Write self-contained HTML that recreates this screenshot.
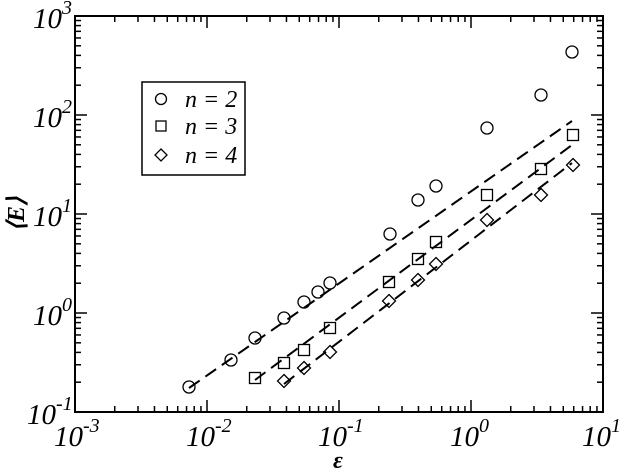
<!DOCTYPE html><html><head><style>body{margin:0;background:#fff}svg{display:block}text{font-family:"Liberation Serif",serif;font-style:italic}</style></head><body>
<svg width="623" height="472" xmlns="http://www.w3.org/2000/svg">
<g stroke="#000" stroke-width="2" fill="none">
<rect x="75" y="16" width="528" height="396"/>
</g>
<g stroke="#000" stroke-width="1.5" id="ticks"></g>
<g stroke="#000" stroke-width="2" fill="none" stroke-dasharray="13,7">
<line x1="189" y1="388" x2="572" y2="121"/>
<line x1="255" y1="380" x2="572" y2="145"/>
<line x1="284" y1="384" x2="572" y2="163"/>
</g>
<g stroke="#000" stroke-width="1.3" fill="none" id="pts"></g>
<rect x="142" y="82" width="103" height="93" fill="#fff" stroke="#000" stroke-width="1.5"/>
<circle cx="161" cy="99" r="5.5" fill="none" stroke="#000" stroke-width="1.3"/>
<rect x="156" y="121" width="10" height="10" fill="none" stroke="#000" stroke-width="1.3"/>
<path d="M161 149 l6 6 -6 6 -6 -6z" fill="none" stroke="#000" stroke-width="1.3"/>
<g font-size="24"><text x="185" y="107">n = 2</text><text x="185" y="134">n = 3</text><text x="185" y="163">n = 4</text></g>
<g font-size="29">
<text x="54" y="446">10<tspan dy="-14" font-size="20">-3</tspan></text>
<text x="186" y="446">10<tspan dy="-14" font-size="20">-2</tspan></text>
<text x="318" y="446">10<tspan dy="-14" font-size="20">-1</tspan></text>
<text x="450" y="446">10<tspan dy="-14" font-size="20">0</tspan></text>
<text x="582" y="446">10<tspan dy="-14" font-size="20">1</tspan></text>
<text x="27" y="424">10<tspan dy="-14" font-size="20">-1</tspan></text>
<text x="33" y="325">10<tspan dy="-14" font-size="20">0</tspan></text>
<text x="33" y="226">10<tspan dy="-14" font-size="20">1</tspan></text>
<text x="33" y="127">10<tspan dy="-14" font-size="20">2</tspan></text>
<text x="33" y="28">10<tspan dy="-14" font-size="20">3</tspan></text>
</g>
<text x="333" y="468" font-size="24" font-style="normal" font-weight="bold">ε</text>
<text transform="translate(24,214) rotate(-90)" text-anchor="middle" font-size="24" font-weight="bold">⟨E⟩</text>
<script>
var ns="http://www.w3.org/2000/svg",t=document.getElementById("ticks"),p=document.getElementById("pts");
function ln(a,b,c,d){var e=document.createElementNS(ns,"line");e.setAttribute("x1",a);e.setAttribute("y1",b);e.setAttribute("x2",c);e.setAttribute("y2",d);t.appendChild(e);}
for(var d=0;d<4;d++){for(var k=1;k<10;k++){var L=k==1?12:6;var x=75+132*d+132*Math.log10(k);if(k>1||d>0){ln(x,412,x,412-L);ln(x,16,x,16+L);}
var y=412-99*d-99*Math.log10(k);if(k>1||d>0){ln(75,y,75+L,y);ln(603,y,603-L,y);}}}
function c(x,y){var e=document.createElementNS(ns,"circle");e.setAttribute("cx",x);e.setAttribute("cy",y);e.setAttribute("r",6);p.appendChild(e);}
function s(x,y){var e=document.createElementNS(ns,"rect");e.setAttribute("x",x-5.5);e.setAttribute("y",y-5.5);e.setAttribute("width",11);e.setAttribute("height",11);p.appendChild(e);}
function dm(x,y){var e=document.createElementNS(ns,"path");e.setAttribute("d","M"+x+" "+(y-6.5)+"l6.5 6.5-6.5 6.5-6.5-6.5z");p.appendChild(e);}
[[189,387],[231,360],[255,338],[284,318],[304,302],[318,292],[330,283],[390,234],[418,200],[436,186],[487,128],[541,95],[572,52]].forEach(function(a){c(a[0],a[1]);});
[[255,378],[284,363],[304,350],[330,328],[389,282],[418,259],[436,242],[487,195],[541,169],[573,135]].forEach(function(a){s(a[0],a[1]);});
[[284,381],[304,368],[330,352],[389,301],[418,280],[436,264],[487,220],[541,195],[573,165]].forEach(function(a){dm(a[0],a[1]);});
</script>
</svg></body></html>
